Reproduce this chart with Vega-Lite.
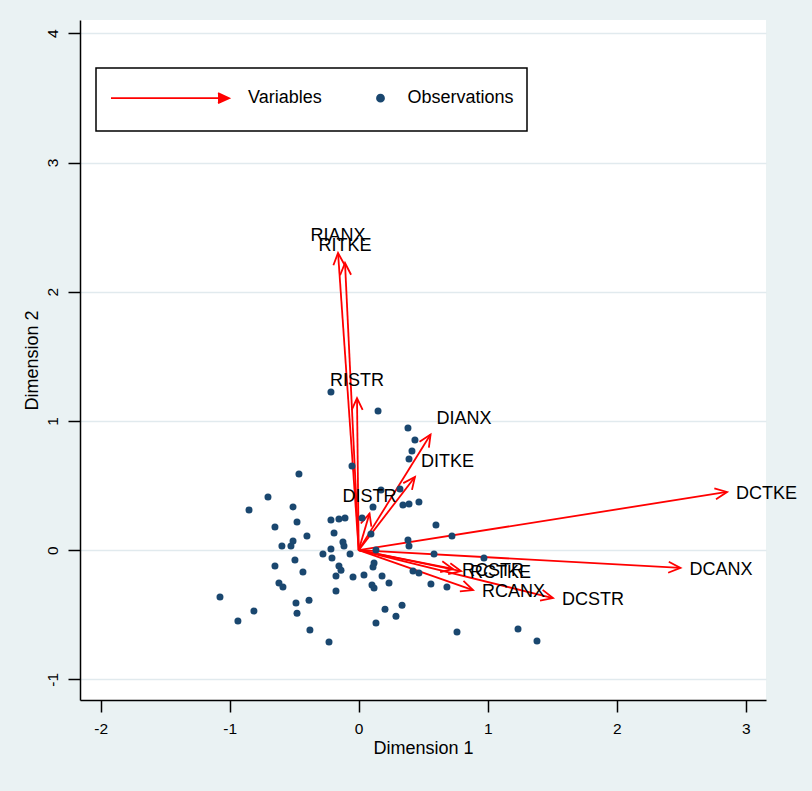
{
  "$schema": "https://vega.github.io/schema/vega-lite/v6.json",
  "width": 686,
  "height": 680,
  "autosize": {"type": "none"},
  "padding": {"left": 80, "top": 20, "right": 46, "bottom": 91},
  "background": "#eaf2f3",
  "view": {"fill": "white", "stroke": null},
  "config": {"font": "Liberation Sans"},
  "datasets": {
    "vars": [
      {"name": "DCTKE", "x": 2.855, "y": 0.450},
      {"name": "DCANX", "x": 2.494, "y": -0.138},
      {"name": "DCSTR", "x": 1.506, "y": -0.371},
      {"name": "RCANX", "x": 0.886, "y": -0.309},
      {"name": "RCSTR", "x": 0.731, "y": -0.146},
      {"name": "RCTKE", "x": 0.793, "y": -0.162},
      {"name": "DIANX", "x": 0.557, "y": 0.895},
      {"name": "DITKE", "x": 0.436, "y": 0.566},
      {"name": "DISTR", "x": 0.084, "y": 0.283},
      {"name": "RISTR", "x": -0.013, "y": 1.177},
      {"name": "RIANX", "x": -0.160, "y": 2.300},
      {"name": "RITKE", "x": -0.106, "y": 2.222}
    ],
    "obs": [
      {"x": -0.215, "y": 1.224}, {"x": 0.150, "y": 1.077}, {"x": 0.382, "y": 0.945},
      {"x": 0.436, "y": 0.852}, {"x": 0.413, "y": 0.767}, {"x": 0.390, "y": 0.705},
      {"x": -0.052, "y": 0.651}, {"x": -0.463, "y": 0.589}, {"x": -0.703, "y": 0.411},
      {"x": -0.850, "y": 0.310}, {"x": -0.509, "y": 0.334}, {"x": -0.478, "y": 0.217},
      {"x": 0.173, "y": 0.465}, {"x": 0.320, "y": 0.473}, {"x": 0.343, "y": 0.349},
      {"x": 0.390, "y": 0.357}, {"x": 0.467, "y": 0.372}, {"x": 0.599, "y": 0.194},
      {"x": 0.723, "y": 0.109}, {"x": 0.382, "y": 0.078}, {"x": 0.390, "y": 0.032},
      {"x": 0.584, "y": -0.030}, {"x": 0.971, "y": -0.061}, {"x": 0.421, "y": -0.162},
      {"x": 0.467, "y": -0.178}, {"x": 0.560, "y": -0.263}, {"x": 0.684, "y": -0.286},
      {"x": 0.204, "y": -0.457}, {"x": 0.336, "y": -0.426}, {"x": 0.289, "y": -0.511},
      {"x": 0.134, "y": -0.565}, {"x": -1.075, "y": -0.363}, {"x": -0.812, "y": -0.472},
      {"x": -0.936, "y": -0.549}, {"x": -0.486, "y": -0.410}, {"x": -0.478, "y": -0.488},
      {"x": -0.385, "y": -0.387}, {"x": -0.378, "y": -0.619}, {"x": -0.230, "y": -0.712},
      {"x": -0.176, "y": -0.317}, {"x": -0.176, "y": -0.200}, {"x": -0.044, "y": -0.208},
      {"x": 0.041, "y": -0.193}, {"x": -0.153, "y": -0.123}, {"x": -0.137, "y": -0.155},
      {"x": -0.207, "y": -0.061}, {"x": -0.277, "y": -0.030}, {"x": -0.215, "y": 0.009},
      {"x": -0.067, "y": -0.030}, {"x": -0.122, "y": 0.063}, {"x": -0.114, "y": 0.032},
      {"x": -0.191, "y": 0.132}, {"x": -0.215, "y": 0.233}, {"x": -0.153, "y": 0.241},
      {"x": -0.106, "y": 0.248}, {"x": 0.026, "y": 0.248}, {"x": 0.111, "y": 0.333},
      {"x": 0.095, "y": 0.125}, {"x": 0.134, "y": 0.001}, {"x": 0.119, "y": -0.100},
      {"x": 0.111, "y": -0.131}, {"x": 0.103, "y": -0.270}, {"x": 0.119, "y": -0.294},
      {"x": 0.181, "y": -0.201}, {"x": 0.235, "y": -0.255}, {"x": -0.649, "y": 0.179},
      {"x": -0.649, "y": -0.123}, {"x": -0.494, "y": -0.077}, {"x": -0.432, "y": -0.170},
      {"x": -0.618, "y": -0.255}, {"x": -0.587, "y": -0.286}, {"x": -0.595, "y": 0.032},
      {"x": -0.525, "y": 0.032}, {"x": -0.509, "y": 0.070}, {"x": -0.401, "y": 0.109},
      {"x": 0.762, "y": -0.634}, {"x": 1.235, "y": -0.611}, {"x": 1.382, "y": -0.704}
    ]
  },
  "encoding": {
    "x": {
      "field": "x", "type": "quantitative",
      "scale": {"domain": [-2.16, 3.157], "nice": false, "zero": false},
      "axis": {
        "title": "Dimension 1", "values": [-2, -1, 0, 1, 2, 3], "grid": false,
        "labelExpr": "'' + datum.value",
        "domainColor": "black", "domainWidth": 1.5,
        "tickColor": "black", "tickWidth": 1.5, "tickSize": 12,
        "labelFontSize": 15.5, "labelColor": "black", "labelPadding": 9,
        "titleFontSize": 18, "titleFontWeight": "normal", "titleColor": "black", "titlePadding": 3
      }
    },
    "y": {
      "field": "y", "type": "quantitative",
      "scale": {"domain": [-1.16, 4.103], "nice": false, "zero": false},
      "axis": {
        "title": "Dimension 2", "values": [-1, 0, 1, 2, 3, 4], "grid": true,
        "gridColor": "#e1eaee", "gridWidth": 1.5,
        "labelExpr": "'' + datum.value",
        "domainColor": "black", "domainWidth": 1.5,
        "tickColor": "black", "tickWidth": 1.5, "tickSize": 12,
        "labelAngle": -90, "labelAlign": "center", "labelBaseline": "alphabetic",
        "labelFontSize": 15.5, "labelColor": "black", "labelPadding": 11,
        "titleFontSize": 18, "titleFontWeight": "normal", "titleColor": "black", "titlePadding": 4
      }
    }
  },
  "layer": [
    {
      "data": {"name": "vars"},
      "mark": {"type": "rule", "strokeWidth": 1.8},
      "encoding": {
        "x2": {"datum": 0},
        "y2": {"datum": 0},
        "color": {
          "datum": "Variables", "type": "nominal",
          "scale": {"domain": ["Variables", "Observations"], "range": ["#ff0000", "#1a476f"]},
          "legend": {
            "orient": "none", "legendX": 16, "legendY": 48,
            "direction": "horizontal", "title": null,
            "padding": 13, "columnPadding": 51, "labelOffset": 22.5,
            "symbolSize": 49, "symbolStrokeWidth": 1.8,
            "labelFontSize": 18, "labelColor": "black", "labelFont": "Liberation Sans",
            "encode": {
              "legend": {"update": {"stroke": {"value": "black"}, "strokeWidth": {"value": 1.5}, "fill": {"value": "white"}}},
              "symbols": {"update": {
                "x": {"signal": "datum.value === 'Variables' ? 61 : 4.5"},
                "y": {"value": 17},
                "shape": {"signal": "datum.value === 'Variables' ? 'M-16.86,0L16.86,0M13.72,-1.43L16.86,0L13.72,1.43M0,4.6' : 'M1,0A1,1 0 1,1 -1,0A1,1 0 1,1 1,0ZM0,4.6'"},
                "size": {"value": 49},
                "fill": {"signal": "datum.value === 'Variables' ? 'transparent' : '#1a476f'"},
                "stroke": {"signal": "datum.value === 'Variables' ? '#ff0000' : 'transparent'"},
                "strokeWidth": {"value": 1.8},
                "opacity": {"value": 1}
              }},
              "labels": {"update": {
                "x": {"signal": "datum.value === 'Variables' ? 139 : 31.5"},
                "y": {"value": 17}
              }}
            }
          }
        }
      }
    },
    {
      "data": {"name": "vars"},
      "transform": [{"calculate": "atan2(datum.x, datum.y) * 180 / PI", "as": "ang"}],
      "mark": {"type": "point", "shape": "M-1.1,2.4L0,0L1.1,2.4", "filled": false, "strokeWidth": 1.8, "size": 100, "opacity": 1},
      "encoding": {
        "angle": {"field": "ang", "type": "quantitative", "scale": null},
        "color": {"datum": "Variables", "type": "nominal"}
      }
    },
    {
      "data": {"name": "obs"},
      "mark": {"type": "circle", "size": 49, "opacity": 1},
      "encoding": {
        "color": {"datum": "Observations", "type": "nominal"}
      }
    },
    {
      "data": {"name": "vars"},
      "transform": [
        {"calculate": "atan2(datum.x, datum.y) * 180 / PI", "as": "ang"},
        {"filter": "datum.ang >= 60"}
      ],
      "mark": {"type": "text", "align": "left", "baseline": "middle", "dx": 9, "dy": 2, "fontSize": 18, "font": "Liberation Sans", "color": "black"},
      "encoding": {"text": {"field": "name"}}
    },
    {
      "data": {"name": "vars"},
      "transform": [
        {"calculate": "atan2(datum.x, datum.y) * 180 / PI", "as": "ang"},
        {"filter": "datum.ang >= 20 && datum.ang < 60"}
      ],
      "mark": {"type": "text", "align": "left", "baseline": "middle", "dx": 6, "dy": -15, "fontSize": 18, "font": "Liberation Sans", "color": "black"},
      "encoding": {"text": {"field": "name"}}
    },
    {
      "data": {"name": "vars"},
      "transform": [
        {"calculate": "atan2(datum.x, datum.y) * 180 / PI", "as": "ang"},
        {"filter": "datum.ang < 20"}
      ],
      "mark": {"type": "text", "align": "center", "baseline": "middle", "dy": -17, "fontSize": 18, "font": "Liberation Sans", "color": "black"},
      "encoding": {"text": {"field": "name"}}
    }
  ]
}
